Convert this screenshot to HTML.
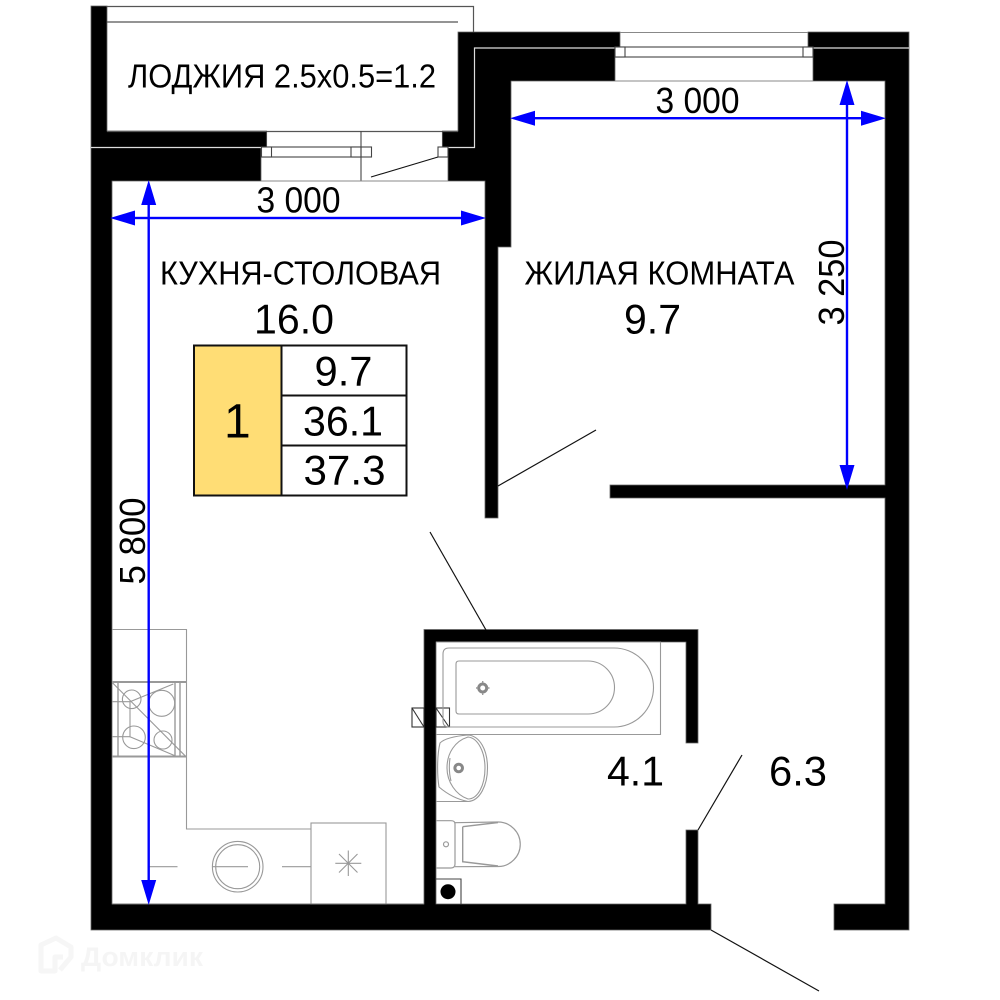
<!DOCTYPE html>
<html><head><meta charset="utf-8">
<style>html,body{margin:0;padding:0;background:#fff}svg{display:block}
text{font-family:"Liberation Sans",sans-serif;fill:#000}</style></head>
<body>
<svg width="1000" height="1000" viewBox="0 0 1000 1000" xmlns="http://www.w3.org/2000/svg">
<rect width="1000" height="1000" fill="#fff"/>
<!-- watermark -->
<g fill="none" stroke="#f6f6f6" stroke-width="5" stroke-linejoin="round">
<path d="M41 951 V945 L56 938 L71 947 V957 L60 970 M41 951 V971 H55 V957 H63"/>
</g>
<text x="81" y="966" font-size="27" font-weight="bold" style="fill:#f5f5f5" textLength="122" lengthAdjust="spacingAndGlyphs">Домклик</text>
<!-- walls -->
<g fill="#000" stroke="#666" stroke-width="0.8">
<path d="M91 6 H107 V131 H266.5 V147.5 H261 V181 H112 V904 H424 V629.5 H698 V743 H686 V642 H436 V904 H686 V830 H698 V904 H711 V930 H91 Z"/>
<path d="M458 32 H620 V47 H615 V81 H511 V247 H498 V518 H485 V181 H448 V147 H442.5 V131 H458 Z"/>
<path d="M808 32 H909 V930 H834 V904 H885 V498 H610 V485 H885 V81 H813 V47 H808 Z"/>
</g>
<g stroke="#ddd" stroke-width="1.2" fill="none">
<path d="M91 147.5 H261"/>
<path d="M448 147.5 H474.5 V48 H615"/>
<path d="M813 48 H909"/>
</g>
<!-- loggia lines -->
<g stroke="#555" stroke-width="1.2" fill="none">
<path d="M107 6.5 H473.5 V32"/>
<path d="M107 22 H458"/>
<path d="M107 131.5 H458"/>
</g>
<!-- balcony door/window -->
<g stroke="#444" stroke-width="1.1" fill="#fff">
<path d="M266.5 131 V147 M442.5 131 V147" />
<rect x="261.5" y="147" width="110" height="10"/>
<rect x="261.5" y="147" width="10" height="10"/>
<rect x="351" y="147" width="10" height="10"/>
<rect x="438" y="147" width="10" height="10"/>
<path d="M361 131 V181" fill="none"/>
<path d="M371 177 L438 157" fill="none" stroke="#111"/>
<path d="M261 181 H448" fill="none" stroke="#888"/>
</g>
<!-- room window -->
<g stroke="#444" stroke-width="1.1" fill="#fff">
<rect x="615" y="47" width="198" height="10"/>
<rect x="615" y="47" width="10" height="10"/>
<rect x="803" y="47" width="10" height="10"/>
<path d="M620 32.5 H808 M615 81 H813" fill="none" stroke="#888"/>
</g>
<!-- door swings -->
<g stroke="#111" stroke-width="1.2" fill="none">
<path d="M498 486 L596 430"/>
<path d="M430 532 L486 630"/>
<path d="M698 830 L742 755"/>
<path d="M711 930 L819 991"/>
</g>
<!-- kitchen fixtures -->
<g stroke="#999" stroke-width="1.1" fill="none">
<path d="M112 629.5 H186.5 V829 H311"/>
<rect x="311" y="823" width="75" height="81"/>
<path d="M112 682 H186.5 M112 756.5 H186.5" stroke-width="2"/>
<path d="M118 682 V756.5 M175 682 V756.5 M180 682 V756.5" stroke-width="1.4"/>
<circle cx="131.7" cy="699.3" r="9.3"/>
<circle cx="161.7" cy="703.3" r="13"/>
<circle cx="134" cy="737.3" r="11.3"/>
<circle cx="163" cy="740" r="9"/>
<path d="M112.7 683 L186 756.7"/>
<path d="M173.3 684 L130 701.7 V736.7 L175 755.7"/>
<path d="M112 701.7 H130 M112 736.7 H130"/>
<circle cx="237.7" cy="866.7" r="25.3"/>
<circle cx="237.7" cy="866.7" r="22"/>
<path d="M149 866.7 H177.5 M212 866.7 H248 M282 866.7 H311"/>
<path d="M335.3 863.3 H361.3 M348.3 850.5 V876 M339 854 L357.5 872.5 M357.5 854 L339 872.5"/>
<path d="M112 904 H424" stroke="#777"/>
</g>
<!-- vents -->
<g stroke="#333" stroke-width="1.1" fill="none">
<rect x="412" y="708" width="12" height="19"/>
<path d="M412 708 L424 727"/>
<rect x="436" y="708" width="13.5" height="19"/>
<path d="M436 708 L449 727"/>
</g>
<!-- bath -->
<g stroke="#999" stroke-width="1.1" fill="none">
<path d="M436 642 H660.5 V734.5 H436"/>
<path d="M443 654 Q443 648 449 648 H614 A39.5 39.5 0 0 1 614 727 H449 Q443 727 443 721 Z"/>
<path d="M456 664 Q456 661 459 661 H588 A26.5 26.5 0 0 1 588 714 H459 Q456 714 456 711 Z"/>
<circle cx="482.7" cy="688" r="4" stroke-width="3" stroke="#888"/>
<path d="M476 688 H478 M487.5 688 H489.5 M482.7 681 V683 M482.7 693 V695" stroke-width="1.4"/>
</g>
<!-- sink -->
<g stroke="#999" stroke-width="1.1" fill="none">
<path d="M436 801.5 H468 C480 801 487.5 785 487.5 768 C487.5 750 480 736 468 735 C456 736 445 738 440 743 C437 755 437 775 439 787 C446 793 455 799 468 801.5"/>
<path d="M468 737 C478 738 485 752 485 768 C485 785 478 799 468 799 C456 795 447 782 447 768 C447 753 455 741 468 737 Z"/>
<path d="M450 758 C449 765 449 773 451 781"/>
<circle cx="458.7" cy="768" r="3.8" stroke-width="3" stroke="#888"/>
</g>
<!-- toilet -->
<g stroke="#999" stroke-width="1.2" fill="none">
<path d="M436 820.7 H451 Q455 820.7 455 824 V864 Q455 868 451 868 H436"/>
<path d="M455 822.7 L498 822 A22 22 0 0 1 498 866.5 L455 866.7" stroke-width="1.2"/>
<path d="M462.7 826.7 L498 822.5 M462.7 826.7 V861.7 L498 866" stroke-width="1.4"/>
<circle cx="446" cy="844.3" r="2.5"/>
</g>
<!-- drain box -->
<path d="M436 879 H461 V904" fill="none" stroke="#444" stroke-width="1.1"/>
<circle cx="448" cy="891.7" r="7.5" fill="#000"/>
<!-- dimensions -->
<g fill="#0000ff" stroke="none">
<rect x="125" y="216.8" width="346" height="2.4"/>
<path d="M110 218 L135 210.5 V225.5 Z M486 218 L461 210.5 V225.5 Z"/>
<rect x="147.5" y="195" width="2.4" height="695"/>
<path d="M148.7 180 L141.2 205 H156.2 Z M148.7 905 L141.2 880 H156.2 Z"/>
<rect x="525" y="117" width="346" height="2.4"/>
<path d="M510 118.2 L535 110.7 V125.7 Z M886 118.2 L861 110.7 V125.7 Z"/>
<rect x="845.8" y="95" width="2.4" height="380"/>
<path d="M847 80 L839.5 105 H854.5 Z M847 490 L839.5 465 H854.5 Z"/>
</g>
<!-- stamp table -->
<rect x="194" y="345.5" width="87.5" height="150" fill="#FFDD75"/>
<g stroke="#111" stroke-width="2" fill="none">
<rect x="194" y="345.5" width="212.5" height="150"/>
<path d="M281.5 345.5 V495.5 M281.5 395.5 H406.5 M281.5 445.5 H406.5"/>
</g>
<!-- labels -->
<g font-size="36">
<text x="128" y="87.5" textLength="308" lengthAdjust="spacingAndGlyphs" font-size="33.5">ЛОДЖИЯ 2.5x0.5=1.2</text>
<text x="256.5" y="212.5" textLength="84" lengthAdjust="spacingAndGlyphs">3 000</text>
<text x="655.5" y="113" textLength="84" lengthAdjust="spacingAndGlyphs">3 000</text>
<text x="160" y="284.5" textLength="281" lengthAdjust="spacingAndGlyphs" font-size="33.5">КУХНЯ-СТОЛОВАЯ</text>
<text x="524.5" y="284.5" textLength="270" lengthAdjust="spacingAndGlyphs" font-size="33.5">ЖИЛАЯ КОМНАТА</text>
<text transform="translate(145,584.5) rotate(-90)" textLength="87" lengthAdjust="spacingAndGlyphs">5 800</text>
<text transform="translate(844,325.5) rotate(-90)" textLength="86" lengthAdjust="spacingAndGlyphs">3 250</text>
</g>
<g font-size="42">
<text x="254" y="333.5" textLength="80" lengthAdjust="spacingAndGlyphs">16.0</text>
<text x="624" y="333.5" textLength="57" lengthAdjust="spacingAndGlyphs">9.7</text>
<text x="607" y="785.5" textLength="57" lengthAdjust="spacingAndGlyphs">4.1</text>
<text x="769" y="785.5" textLength="58" lengthAdjust="spacingAndGlyphs">6.3</text>
<text x="314.5" y="385.5" textLength="58" lengthAdjust="spacingAndGlyphs">9.7</text>
<text x="303" y="435.5" textLength="80" lengthAdjust="spacingAndGlyphs">36.1</text>
<text x="303.5" y="484.5" textLength="82" lengthAdjust="spacingAndGlyphs">37.3</text>
<text x="224" y="437.5" font-size="48">1</text>
</g>
</svg>
</body></html>
